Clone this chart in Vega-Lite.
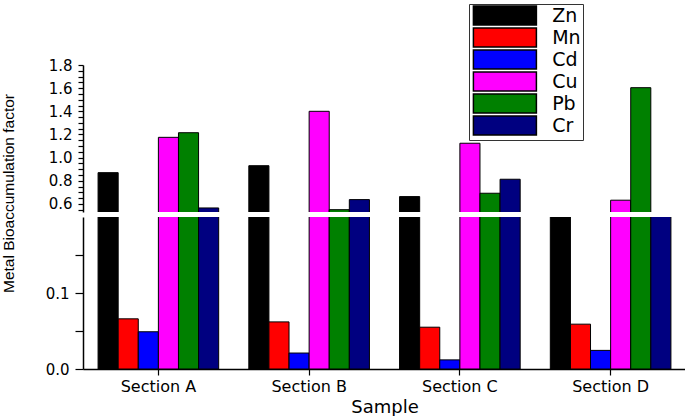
{
  "$schema": "https://vega.github.io/schema/vega-lite/v6.json",
  "padding": {"left": 1, "top": 3, "right": 0, "bottom": 0},
  "spacing": 5,
  "bounds": "flush",
  "datasets": {
    "bars": [
      {"sample": "Section A", "metal": "Zn", "value": 0.87},
      {"sample": "Section A", "metal": "Mn", "value": 0.066},
      {"sample": "Section A", "metal": "Cd", "value": 0.049},
      {"sample": "Section A", "metal": "Cu", "value": 1.175},
      {"sample": "Section A", "metal": "Pb", "value": 1.215},
      {"sample": "Section A", "metal": "Cr", "value": 0.565},
      {"sample": "Section B", "metal": "Zn", "value": 0.93},
      {"sample": "Section B", "metal": "Mn", "value": 0.062},
      {"sample": "Section B", "metal": "Cd", "value": 0.021},
      {"sample": "Section B", "metal": "Cu", "value": 1.40},
      {"sample": "Section B", "metal": "Pb", "value": 0.55},
      {"sample": "Section B", "metal": "Cr", "value": 0.637},
      {"sample": "Section C", "metal": "Zn", "value": 0.663},
      {"sample": "Section C", "metal": "Mn", "value": 0.055},
      {"sample": "Section C", "metal": "Cd", "value": 0.012},
      {"sample": "Section C", "metal": "Cu", "value": 1.124},
      {"sample": "Section C", "metal": "Pb", "value": 0.692},
      {"sample": "Section C", "metal": "Cr", "value": 0.813},
      {"sample": "Section D", "metal": "Zn", "value": 0.45},
      {"sample": "Section D", "metal": "Mn", "value": 0.059},
      {"sample": "Section D", "metal": "Cd", "value": 0.0245},
      {"sample": "Section D", "metal": "Cu", "value": 0.632},
      {"sample": "Section D", "metal": "Pb", "value": 1.604},
      {"sample": "Section D", "metal": "Cr", "value": 0.45}
    ]
  },
  "config": {
    "view": {"stroke": null},
    "axis": {
      "domainColor": "black",
      "domainWidth": 1.5,
      "tickColor": "black",
      "tickWidth": 1.2,
      "labelColor": "black",
      "labelFont": "DejaVu Sans",
      "labelFontSize": 15,
      "titleColor": "black",
      "titleFont": "Liberation Sans",
      "titleFontWeight": "normal",
      "grid": false
    }
  },
  "vconcat": [
    {
      "width": 603,
      "height": 147,
      "data": {"name": "bars"},
      "mark": {"type": "bar", "clip": true, "stroke": "black", "strokeWidth": 1},
      "encoding": {
        "x": {"field": "sample", "type": "nominal", "scale": {"paddingInner": 0.2, "paddingOuter": 0.1}, "axis": null},
        "xOffset": {"field": "metal", "type": "nominal", "sort": ["Zn", "Mn", "Cd", "Cu", "Pb", "Cr"], "scale": {"paddingInner": 0, "paddingOuter": 0}},
        "y": {
          "field": "value", "type": "quantitative",
          "scale": {"domain": [0.53, 1.8], "zero": false, "nice": false},
          "axis": {
            "values": [0.55, 0.6, 0.65, 0.7, 0.75, 0.8, 0.85, 0.9, 0.95, 1, 1.05, 1.1, 1.15, 1.2, 1.25, 1.3, 1.35, 1.4, 1.45, 1.5, 1.55, 1.6, 1.65, 1.7, 1.75, 1.8],
            "labelExpr": "round(datum.value*100) % 10 == 0 ? format(datum.value, '.1f') : ''",
            "tickSize": 5,
            "labelPadding": 6,
            "labelBaseline": "middle",
            "title": "Metal Bioaccumulation factor",
            "titleFontSize": 15.5,
            "titleY": 128,
            "titlePadding": 32
          }
        },
        "color": {
          "field": "metal", "type": "nominal",
          "sort": ["Zn", "Mn", "Cd", "Cu", "Pb", "Cr"],
          "scale": {"domain": ["Zn", "Mn", "Cd", "Cu", "Pb", "Cr"], "range": ["#000000", "#FF0000", "#0000FF", "#FF00FF", "#008000", "#000080"]},
          "legend": {
            "orient": "none",
            "legendX": 386,
            "legendY": -61,
            "title": null,
            "symbolType": "M-4,-1.2L4,-1.2L4,1.2L-4,1.2Z",
            "symbolSize": 248,
            "symbolOffset": 24.4,
            "labelOffset": 37.75,
            "symbolStrokeColor": "black",
            "symbolStrokeWidth": 1.5,
            "symbolOpacity": 1,
            "labelFont": "DejaVu Sans",
            "labelFontSize": 19,
            "labelColor": "black",
            "labelExpr": "datum.label + '  '",
            "strokeColor": "#333333",
            "fillColor": "white",
            "padding": 2,
            "rowPadding": -5
          }
        }
      }
    },
    {
      "width": 603,
      "height": 152,
      "data": {"name": "bars"},
      "mark": {"type": "bar", "clip": true, "stroke": "black", "strokeWidth": 1},
      "encoding": {
        "x": {
          "field": "sample", "type": "nominal",
          "scale": {"paddingInner": 0.2, "paddingOuter": 0.1},
          "axis": {"labelAngle": 0, "tickSize": 6, "labelPadding": 3, "labelFontSize": 16, "title": "Sample", "titleFont": "DejaVu Sans", "titleFontSize": 18, "titlePadding": 4}
        },
        "xOffset": {"field": "metal", "type": "nominal", "sort": ["Zn", "Mn", "Cd", "Cu", "Pb", "Cr"], "scale": {"paddingInner": 0, "paddingOuter": 0}},
        "y": {
          "field": "value", "type": "quantitative",
          "scale": {"domain": [0, 0.2], "nice": false},
          "axis": {
            "values": [0, 0.05, 0.1, 0.15],
            "labelExpr": "round(datum.value*100) % 10 == 0 ? format(datum.value, '.1f') : ''",
            "tickSize": 8,
            "labelPadding": 6,
            "title": null
          }
        },
        "color": {
          "field": "metal", "type": "nominal",
          "sort": ["Zn", "Mn", "Cd", "Cu", "Pb", "Cr"],
          "scale": {"domain": ["Zn", "Mn", "Cd", "Cu", "Pb", "Cr"], "range": ["#000000", "#FF0000", "#0000FF", "#FF00FF", "#008000", "#000080"]},
          "legend": null
        }
      }
    }
  ]
}
